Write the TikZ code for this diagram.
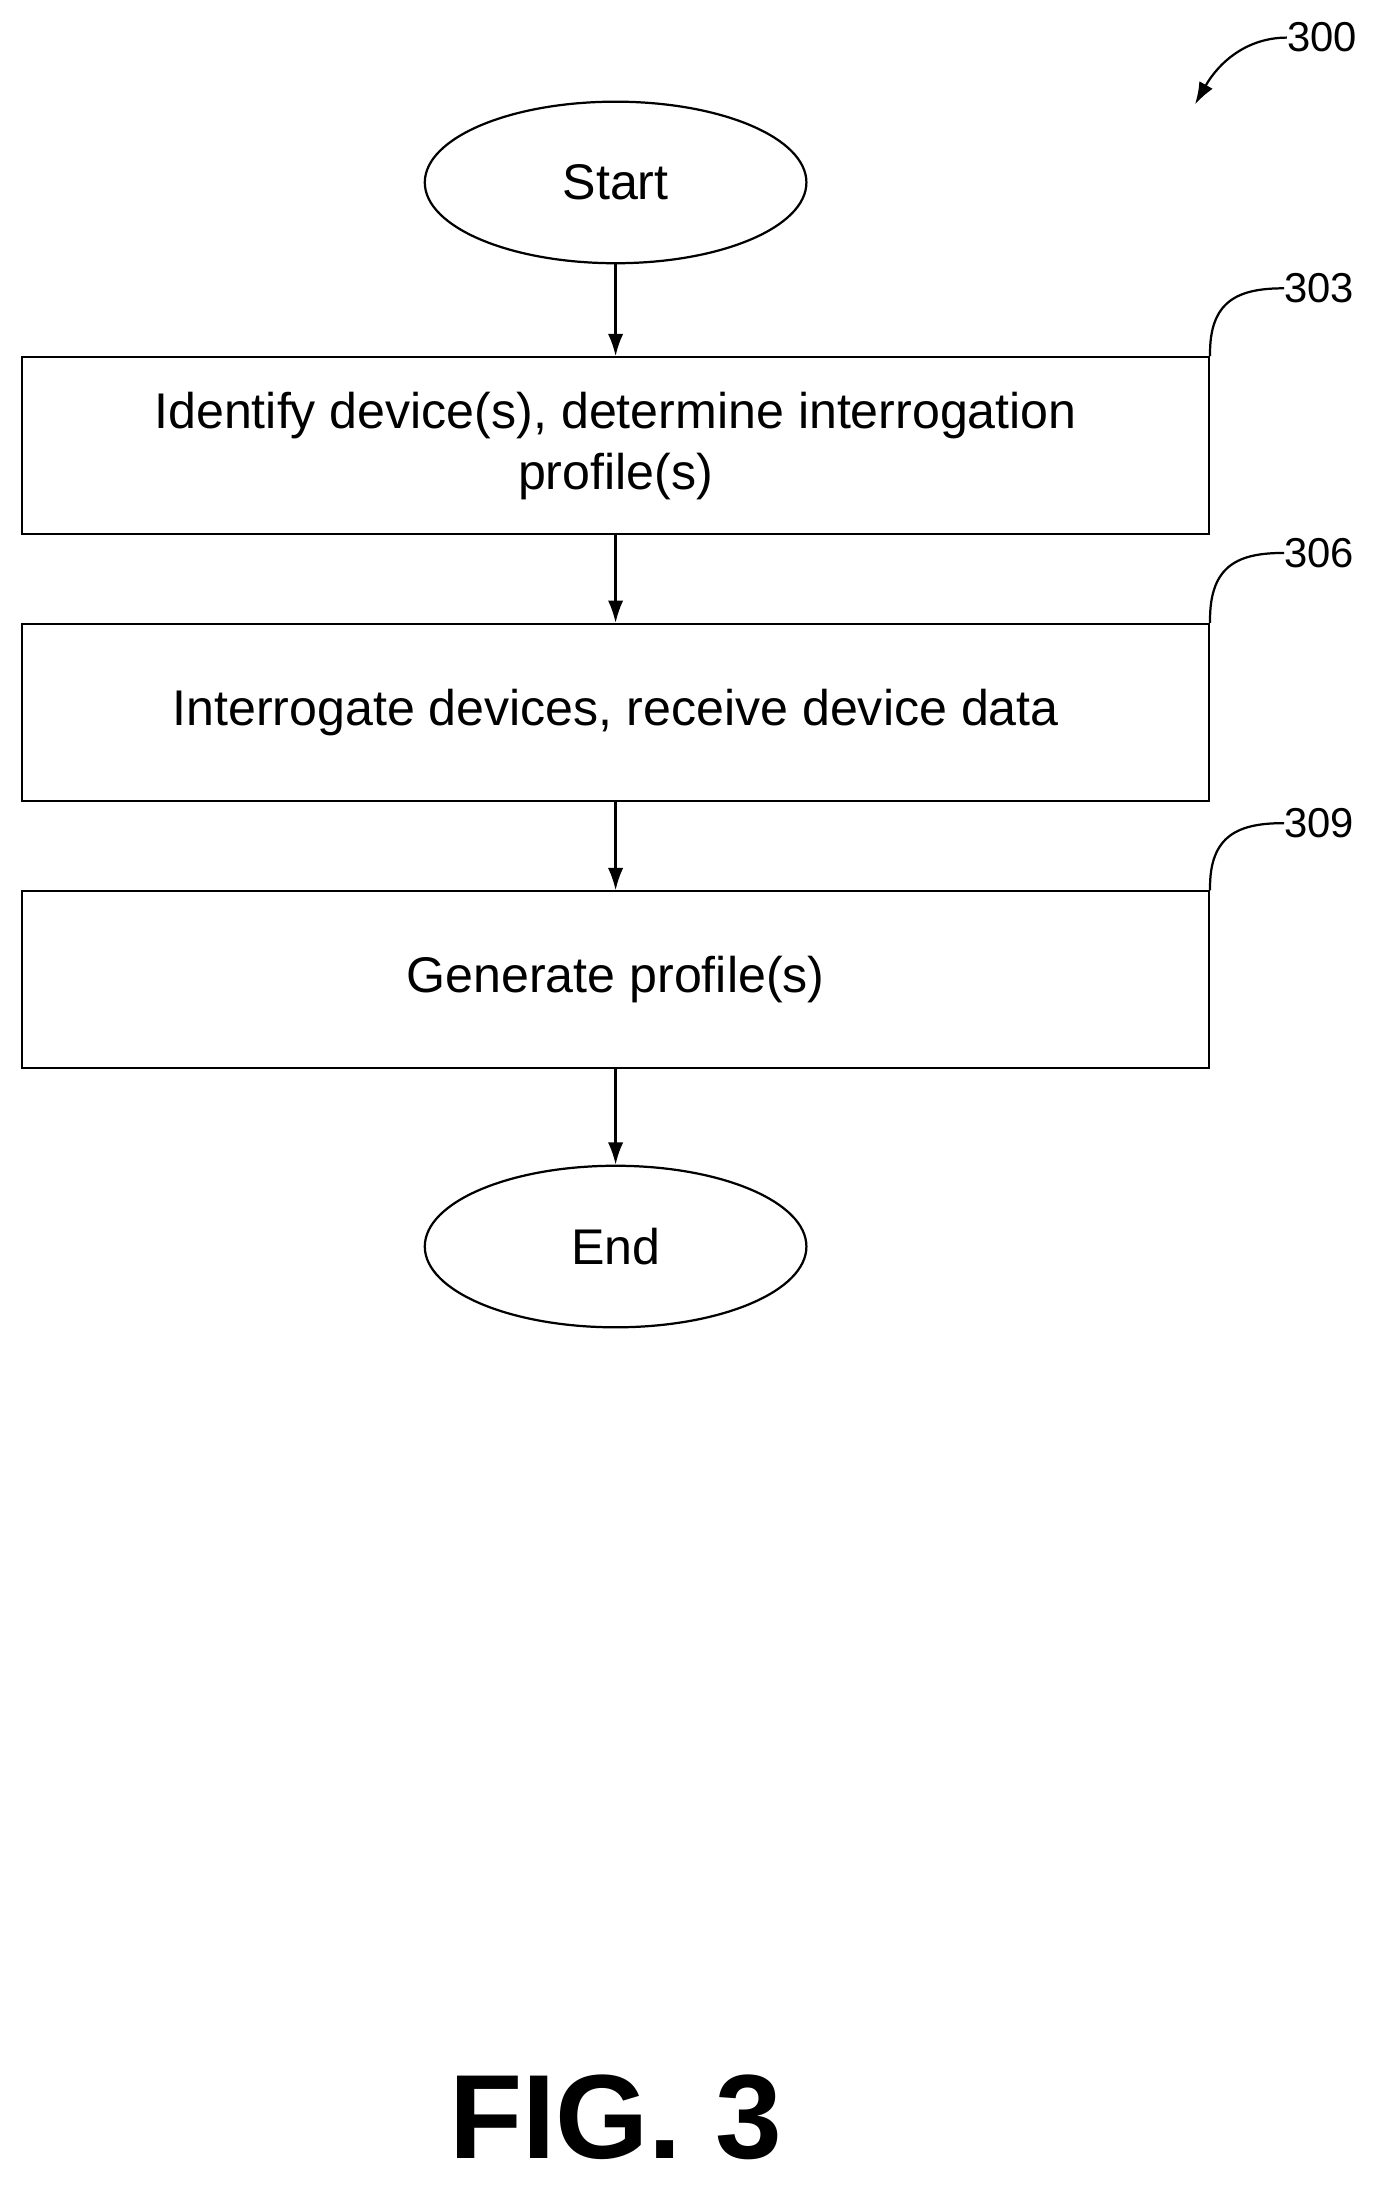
\documentclass[tikz,border=0pt]{standalone}
\usepackage{fontspec}
\setmainfont{Liberation Sans}
\usetikzlibrary{arrows.meta,shapes.geometric}
\begin{document}
\begin{tikzpicture}[x=1pt,y=-1pt,
  every node/.style={font=\fontsize{36}{44}\selectfont},
  box/.style={draw,line width=1.6pt,minimum width=852pt,minimum height=127pt,align=center,inner sep=0pt},
  term/.style={draw,ellipse,line width=1.6pt,minimum width=274pt,minimum height=116pt,inner sep=0pt},
  arr/.style={line width=1.6pt,-{Latex[length=16pt,width=11pt]}},
  lead/.style={line width=1.6pt},
  ref/.style={font=\fontsize{30}{36}\selectfont,anchor=west,inner sep=0pt}]
\useasboundingbox (0,0) rectangle (1000,1576);
\node[term] (start) at (442,131) {Start};
\node[box] (b1) at (442,320) {Identify device(s), determine interrogation\\profile(s)};
\node[box] (b2) at (442,511.5) {Interrogate devices, receive device data};
\node[box] (b3) at (442,703.5) {Generate profile(s)};
\node[term] (end) at (442,895) {End};
\draw[arr] (start) -- (b1);
\draw[arr] (b1) -- (b2);
\draw[arr] (b2) -- (b3);
\draw[arr] (b3) -- (end);
\node[ref] (r303) at (922,207) {303};
\node[ref] (r306) at (922,397) {306};
\node[ref] (r309) at (922,591) {309};
\node[ref] (r300) at (924,27) {300};
\draw[lead] (b1.north east) .. controls (868,215) and (890,207) .. (r303.west);
\draw[lead] (b2.north east) .. controls (868,405) and (890,397) .. (r306.west);
\draw[lead] (b3.north east) .. controls (868,599) and (890,591) .. (r309.west);
\draw[arr] (r300.west) .. controls (895,27) and (875,45) .. (858,75);
\node[font=\bfseries\fontsize{86}{90}\selectfont] (fig) at (442,1520) {FIG. 3};
\end{tikzpicture}
\end{document}
